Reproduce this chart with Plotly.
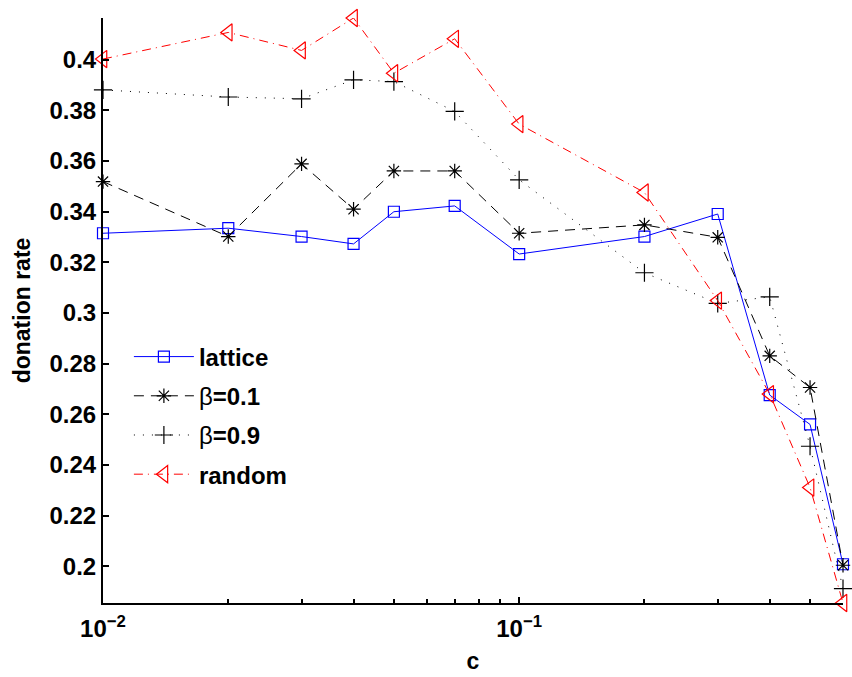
import plotly.graph_objects as go
import math

c_vals = [0.01, 0.02, 0.03, 0.04, 0.05, 0.07, 0.1, 0.2, 0.3, 0.4, 0.5, 0.6]
lattice = [0.3315, 0.3335, 0.3302, 0.3273, 0.3400, 0.3423, 0.3233, 0.3302, 0.3391, 0.2676, 0.2560, 0.2008]
beta01 = [0.3519, 0.3302, 0.3589, 0.3410, 0.3561, 0.3561, 0.3315, 0.3348, 0.3299, 0.2831, 0.2706, 0.2004]
beta09 = [0.3881, 0.3853, 0.3846, 0.3921, 0.3914, 0.3796, 0.3526, 0.3159, 0.3038, 0.3064, 0.2474, 0.1912]
random_ = [0.4003, 0.4108, 0.4037, 0.4165, 0.3947, 0.4083, 0.3746, 0.3476, 0.3049, 0.2680, 0.2311, 0.1855]

y_ticks = [0.2, 0.22, 0.24, 0.26, 0.28, 0.3, 0.32, 0.34, 0.36, 0.38, 0.4]
y_tick_text = ["0.2", "0.22", "0.24", "0.26", "0.28", "0.3", "0.32", "0.34", "0.36", "0.38", "0.4"]
x_ticks = [0.01, 0.1]
x_tick_text = ["10<sup>−2</sup>", "10<sup>−1</sup>"]

FONT = "Liberation Sans, Arial, sans-serif"

fig = go.Figure()
series = [
    ("<b>lattice</b>", lattice, "#0000ff", "solid", "square-open", 11),
    ("β<b>=0.1</b>", beta01, "#000000", "10px,7px", "asterisk-open", 12),
    ("β<b>=0.9</b>", beta09, "#000000", "1px,8px", "cross-thin-open", 13),
    ("<b>random</b>", random_, "#ff0000", "9px,5px,1px,5px", "triangle-left-open", 15),
]
for i, (name, ys, col, dash, sym, ms) in enumerate(series):
    fig.add_trace(go.Scatter(
        x=c_vals, y=ys, name=name, mode="lines+markers",
        line=dict(color=col, width=1, dash=dash),
        marker=dict(symbol=sym, size=ms, color=col, line=dict(color=col, width=1.2)),
        legendgroup=f"g{i}", cliponaxis=False,
    ))

fig.update_layout(
    width=852, height=677,
    margin=dict(l=103, r=9, t=18, b=74),
    paper_bgcolor="white", plot_bgcolor="white",
    font=dict(family=FONT, size=24, color="black"),
    showlegend=True,
    legend=dict(
        x=0.035, y=0.459, xanchor="left", yanchor="top",
        bgcolor="rgba(0,0,0,0)", borderwidth=0,
        font=dict(family=FONT, size=24, color="black"),
        itemwidth=60, traceorder="grouped", tracegroupgap=5,
    ),
    xaxis=dict(
        type="log", range=[-2, math.log10(0.6)], tickvals=x_ticks, ticktext=x_tick_text,
        showgrid=False, zeroline=False, showline=True, linecolor="black", linewidth=2,
        ticks="inside", ticklen=6, tickwidth=1.5, tickcolor="black", ticklabelstandoff=3,
        minor=dict(ticks="inside", ticklen=4, tickwidth=1.5, tickcolor="black",
                   tickvals=[0.02, 0.03, 0.04, 0.05, 0.06, 0.07, 0.08, 0.09, 0.2, 0.3, 0.4, 0.5],
                   showgrid=False),
        tickfont=dict(family=FONT, size=24, weight="bold"),
        title=dict(text="<b>c</b>", font=dict(family=FONT, size=23), standoff=12),
        mirror=False, automargin=False,
    ),
    yaxis=dict(
        range=[0.1855, 0.4165], tickvals=y_ticks, ticktext=y_tick_text,
        showgrid=False, zeroline=False, showline=True, linecolor="black", linewidth=2,
        ticks="inside", ticklen=6, tickwidth=1.5, tickcolor="black",
        tickfont=dict(family=FONT, size=24, weight="bold"),
        title=dict(text="<b>donation rate</b>", font=dict(family=FONT, size=23), standoff=12),
        mirror=False, automargin=False,
    ),
)

fig.write_html("out.html")
